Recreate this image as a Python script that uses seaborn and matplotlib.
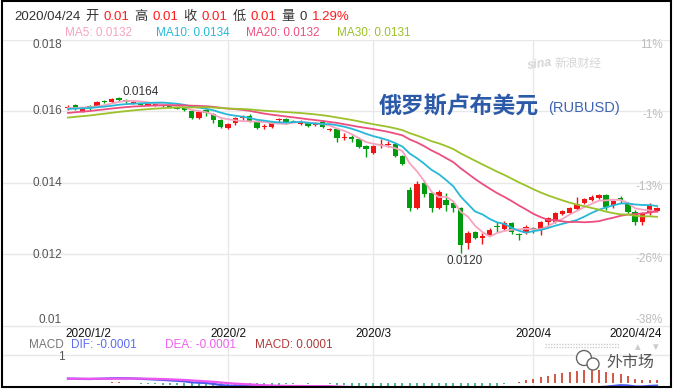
import numpy as np
import pandas as pd
import matplotlib
matplotlib.use("Agg")
import matplotlib.pyplot as plt
import seaborn as sns
from matplotlib.patches import Rectangle, Circle
from matplotlib.lines import Line2D
from matplotlib.transforms import IdentityTransform

plt.rcParams["font.family"] = ["Liberation Sans", "Noto Sans CJK SC", "DejaVu Sans"]

# trading days shown on the chart
dates = pd.bdate_range("2020-01-02", "2020-04-24")

# late-2019 closes, only there so the moving averages have history at the left edge
prior_close = [0.01548, 0.01552, 0.01556, 0.01550, 0.01555, 0.01560, 0.01558, 0.01562, 0.01561, 0.01568,
               0.01572, 0.01575, 0.01580, 0.01578, 0.01584, 0.01588, 0.01590, 0.01589, 0.01594, 0.01600,
               0.01598, 0.01603, 0.01606, 0.01604, 0.01609, 0.01612, 0.01603, 0.01609, 0.01615]

open_ = [0.01609, 0.01618, 0.01601, 0.01615, 0.01615, 0.01629, 0.01627, 0.01638, 0.01632, 0.01624,
         0.01622, 0.01618, 0.01617, 0.01618, 0.01615, 0.01610, 0.01609, 0.01601, 0.01582, 0.01604,
         0.01593, 0.01576, 0.01554, 0.01568, 0.01583, 0.01587, 0.01571, 0.01556, 0.01557, 0.01576,
         0.01579, 0.01573, 0.01566, 0.01568, 0.01562, 0.01571, 0.01549, 0.01551, 0.01525, 0.01529,
         0.01523, 0.01503, 0.01484, 0.01505, 0.01506, 0.01509, 0.01475, 0.01380, 0.01330, 0.01400,
         0.01372, 0.01330, 0.01352, 0.01344, 0.01330, 0.01232, 0.01263, 0.01246, 0.01254, 0.01279,
         0.01271, 0.01288, 0.01258, 0.01260, 0.01274, 0.01268, 0.01291, 0.01291, 0.01313, 0.01316,
         0.01327, 0.01344, 0.01352, 0.01358, 0.01366, 0.01338, 0.01358, 0.01344, 0.01319, 0.01291,
         0.01316, 0.01321]
high = [0.01617, 0.01621, 0.01613, 0.01618, 0.01630, 0.01631, 0.01637, 0.01640, 0.01634, 0.01629,
        0.01624, 0.01623, 0.01621, 0.01620, 0.01617, 0.01612, 0.01612, 0.01604, 0.01602, 0.01606,
        0.01595, 0.01579, 0.01567, 0.01586, 0.01590, 0.01593, 0.01573, 0.01565, 0.01570, 0.01582,
        0.01582, 0.01575, 0.01576, 0.01571, 0.01570, 0.01576, 0.01554, 0.01554, 0.01540, 0.01534,
        0.01526, 0.01506, 0.01506, 0.01523, 0.01517, 0.01512, 0.01478, 0.01389, 0.01405, 0.01408,
        0.01375, 0.01380, 0.01372, 0.01347, 0.01333, 0.01265, 0.01265, 0.01260, 0.01274, 0.01291,
        0.01293, 0.01291, 0.01260, 0.01282, 0.01277, 0.01293, 0.01305, 0.01318, 0.01324, 0.01333,
        0.01361, 0.01358, 0.01366, 0.01369, 0.01369, 0.01353, 0.01364, 0.01347, 0.01324, 0.01318,
        0.01344, 0.01333]
low = [0.01604, 0.01604, 0.01599, 0.01604, 0.01613, 0.01625, 0.01624, 0.01630, 0.01624, 0.01622,
       0.01618, 0.01616, 0.01615, 0.01613, 0.01610, 0.01607, 0.01602, 0.01579, 0.01579, 0.01587,
       0.01568, 0.01554, 0.01551, 0.01562, 0.01576, 0.01571, 0.01551, 0.01551, 0.01554, 0.01571,
       0.01565, 0.01570, 0.01562, 0.01557, 0.01560, 0.01554, 0.01546, 0.01515, 0.01520, 0.01515,
       0.01498, 0.01473, 0.01481, 0.01498, 0.01501, 0.01473, 0.01450, 0.01321, 0.01327, 0.01361,
       0.01319, 0.01327, 0.01321, 0.01319, 0.01204, 0.01215, 0.01243, 0.01229, 0.01251, 0.01263,
       0.01268, 0.01257, 0.01240, 0.01257, 0.01260, 0.01254, 0.01277, 0.01288, 0.01310, 0.01313,
       0.01324, 0.01341, 0.01350, 0.01355, 0.01324, 0.01330, 0.01344, 0.01316, 0.01282, 0.01282,
       0.01310, 0.01319]
close = [0.01611, 0.01610, 0.01610, 0.01613, 0.01627, 0.01627, 0.01635, 0.01632, 0.01627, 0.01627,
         0.01620, 0.01621, 0.01619, 0.01615, 0.01612, 0.01609, 0.01604, 0.01582, 0.01599, 0.01596,
         0.01576, 0.01557, 0.01565, 0.01582, 0.01585, 0.01573, 0.01554, 0.01558, 0.01568, 0.01578,
         0.01568, 0.01572, 0.01568, 0.01559, 0.01568, 0.01557, 0.01551, 0.01526, 0.01527, 0.01523,
         0.01501, 0.01495, 0.01503, 0.01507, 0.01508, 0.01475, 0.01453, 0.01330, 0.01397, 0.01369,
         0.01330, 0.01375, 0.01338, 0.01330, 0.01226, 0.01260, 0.01246, 0.01251, 0.01268, 0.01276,
         0.01288, 0.01263, 0.01256, 0.01277, 0.01268, 0.01291, 0.01302, 0.01316, 0.01321, 0.01330,
         0.01341, 0.01355, 0.01361, 0.01366, 0.01334, 0.01350, 0.01352, 0.01319, 0.01291, 0.01316,
         0.01338, 0.01330]

y_ticks = [0.010, 0.012, 0.014, 0.016, 0.018]
ma_windows = [5, 10, 20, 30]
ma_colors = ["#f7a3bf", "#27b8d8", "#ec4f7f", "#9cc12a"]
volume = 0
day_change = "1.29%"
title_cn = "俄罗斯卢布美元"
title_code = "(RUBUSD)"
macd_vals = {"DIF": "-0.0001", "DEA": "-0.0001", "MACD": "0.0001"}

# ---------------------------------------------------------------
W, H = 675, 390
def fx(px):
    return px / W
def fy(py):
    return 1 - py / H

open_ = np.array(open_); high = np.array(high); low = np.array(low); close = np.array(close)
n = len(close)
idx = np.arange(n)
full_close = pd.Series(np.concatenate([prior_close, close]))
mas = [full_close.rolling(w).mean().values[len(prior_close):] for w in ma_windows]

ema12 = full_close.ewm(span=12, adjust=False).mean()
ema26 = full_close.ewm(span=26, adjust=False).mean()
dif = ema12 - ema26
dea = dif.ewm(span=9, adjust=False).mean()
hist = (2 * (dif - dea)).values[len(prior_close):]
dif = dif.values[len(prior_close):]
dea = dea.values[len(prior_close):]

fig = plt.figure(figsize=(W / 100, H / 100), dpi=100)

# pixel layout
left_px, right_px, top_px, tick_bot_px, bot_px = 3, 670, 40, 326, 387
first_px, last_px = 68, 657
step = (last_px - first_px) / (n - 1)
xlim = (-(first_px - left_px) / step, n - 1 + (right_px - last_px) / step)
px_per_unit = (tick_bot_px - top_px) / (max(y_ticks) - min(y_ticks))
def vpx(v):
    return top_px + (max(y_ticks) - v) * px_per_unit

ax = fig.add_axes([fx(left_px), fy(bot_px), (right_px - left_px) / W, (bot_px - top_px) / H])
ax.set_xlim(*xlim)
ax.set_ylim(max(y_ticks) - (bot_px - top_px) / px_per_unit, max(y_ticks))
ax.axis("off")
for v in y_ticks:
    ax.axhline(v, color="#e8e8e8", lw=1, zorder=0)

month_start = [i for i in range(1, n) if dates[i].month != dates[i - 1].month]
for i in month_start:
    ax.axvline(i, color="#e8e8e8", lw=1, zorder=0)

# candles (red = up, green = down)
up = close >= open_
cols = np.where(up, "#f01414", "#009c0e")
ax.vlines(idx, low, high, colors=cols, lw=1, zorder=2)
body = np.where(np.abs(close - open_) < 0.00003, 0.00003 * np.sign(close - open_ + 1e-12), close - open_)
ax.bar(idx, body, bottom=open_, width=0.74, color=cols, linewidth=0, zorder=3)

for m, c in zip(mas, ma_colors):
    sns.lineplot(x=idx, y=m, ax=ax, color=c, linewidth=1.3, zorder=4)
ax.axis("off")

# high / low marks
ih, il = int(np.argmax(high)), int(np.argmin(low))
ax.annotate(f"{high[ih]:.4f}", (ih, high[ih]), xytext=(16, 4), textcoords="offset points",
            ha="center", va="center", fontsize=8.5, color="#333333")
ax.annotate(f"{low[il]:.4f}", (il, low[il]), xytext=(3, -5.5), textcoords="offset points",
            ha="center", va="center", fontsize=8.5, color="#333333")

# y labels
base = prior_close[-1]
for v in y_ticks:
    py = vpx(v)
    fig.text(fx(62), fy(min(max(py, 45.5), 320)), f"{v:g}", ha="right", va="center",
             fontsize=8.5, color="#555555")
    fig.text(fx(663), fy(min(max(py + 4, 45.5), 320)), f"{(v / base - 1) * 100:.0f}%",
             ha="right", va="center", fontsize=8.5, color="#bdbdbd")

# date labels
date_pos = [0] + month_start + [n - 1]
date_y = max(y_ticks) - (334 - top_px) / px_per_unit
for k, i in enumerate(date_pos):
    d = dates[i]
    if k == 0 or k == len(date_pos) - 1:
        lab = f"{d.year}/{d.month}/{d.day}"
    else:
        lab = f"{d.year}/{d.month}"
    ha = "left" if k == 0 else ("right" if k == len(date_pos) - 1 else "center")
    x_data = i - 3 / step if k == 0 else (i + 5 / step if ha == "right" else i)
    ax.text(x_data, date_y, lab, ha=ha, va="center", fontsize=8.5, color="#111111")

# MACD panel
mx = fig.add_axes([fx(left_px), fy(bot_px), (right_px - left_px) / W, (bot_px - 355) / H])
mx.set_xlim(*xlim)
s = hist[month_start[-1]:].max() / 13
mx.set_ylim(-4 * s, 28 * s)
mx.axis("off")
mx.axhline(28 * s, color="#e8e8e8", lw=1, clip_on=False)
mx.vlines(idx, 0, hist, colors=np.where(hist >= 0, "#c8290f", "#1aa07a"), lw=1.1)
sns.lineplot(x=idx, y=dif, ax=mx, color="#4a5cf0", linewidth=1.6)
sns.lineplot(x=idx, y=dea, ax=mx, color="#ee55ee", linewidth=1.6)
mx.axis("off")
fig.text(fx(65), fy(357), "1", ha="right", va="center", fontsize=8.5, color="#555555")

renderer = fig.canvas.get_renderer()
def text_row(x, y, pieces, size, gap=5):
    for s_, c in pieces:
        t = fig.text(fx(x), fy(y), s_, color=c, fontsize=size, ha="left", va="center")
        x = t.get_window_extent(renderer).x1 + gap

dark, red = "#333333", "#ff1a1a"
text_row(14, 17, [(dates[-1].strftime("%Y/%m/%d"), dark), ("开", dark), (f"{open_[-1]:.2f}", red),
                  ("高", dark), (f"{high[-1]:.2f}", red), ("收", dark), (f"{close[-1]:.2f}", red),
                  ("低", dark), (f"{low[-1]:.2f}", red), ("量", dark), (str(volume), dark),
                  (day_change, red)], 9.5)

for k, (w, m, c) in enumerate(zip(ma_windows, mas, ma_colors)):
    fig.text(fx(65 + 90.7 * k), fy(32.5), f"MA{w}: {m[-1]:.4f}", color=c, fontsize=8.5,
             ha="left", va="center")

text_row(29, 345, [("MACD", "#777777"), (f"DIF: {macd_vals['DIF']}", "#5b6cf0")], 8.5, gap=7)
fig.text(fx(165), fy(345), f"DEA: {macd_vals['DEA']}", color="#ee60ee", fontsize=8.5, va="center")
fig.text(fx(255), fy(345), f"MACD: {macd_vals['MACD']}", color="#b03a3a", fontsize=8.5, va="center")

# title and watermarks
fig.text(fx(379), fy(107), title_cn, fontsize=16.5, fontweight="bold", color="#2c5aa8",
         family=["Noto Sans CJK SC"], ha="left", va="center")
fig.text(fx(548), fy(108), title_code, fontsize=10.5, color="#3d64b4", ha="left", va="center")
fig.text(fx(527), fy(64), "sina", fontsize=9, fontstyle="italic", fontweight="bold",
         color="#d6d6d6", ha="left", va="center", rotation=8)
fig.text(fx(555), fy(63), "新浪财经", fontsize=8.5, color="#d6d6d6", ha="left", va="center",
         family=["Noto Sans CJK SC"])

fig.text(fx(606), fy(362), "外市场", fontsize=11.5, color="#555555", ha="left", va="center",
         family=["Noto Sans CJK SC"])
for (cx, cy, r) in [(584, 358, 7.5), (593, 364, 6)]:
    fig.add_artist(Circle((cx, H - cy), r, transform=IdentityTransform(), facecolor="white",
                          edgecolor="#666666", lw=1, zorder=5))
fig.text(fx(637), fy(347), "▲", fontsize=7, color="#cccccc", ha="center", va="center")
fig.text(fx(655), fy(347), "▼", fontsize=7, color="#cccccc", ha="center", va="center")
for yy in (343.5, 346.5):
    fig.add_artist(Line2D([fx(545), fx(620)], [fy(yy), fy(yy)], transform=fig.transFigure,
                          color="#cccccc", lw=1, linestyle=(0, (1, 1))))

fig.add_artist(Rectangle((fx(2), fy(387)), (671 - 2) / W, (387 - 1) / H, transform=fig.transFigure,
                         fill=False, edgecolor="black", lw=1.5))

fig.savefig("out.png", dpi=100)
